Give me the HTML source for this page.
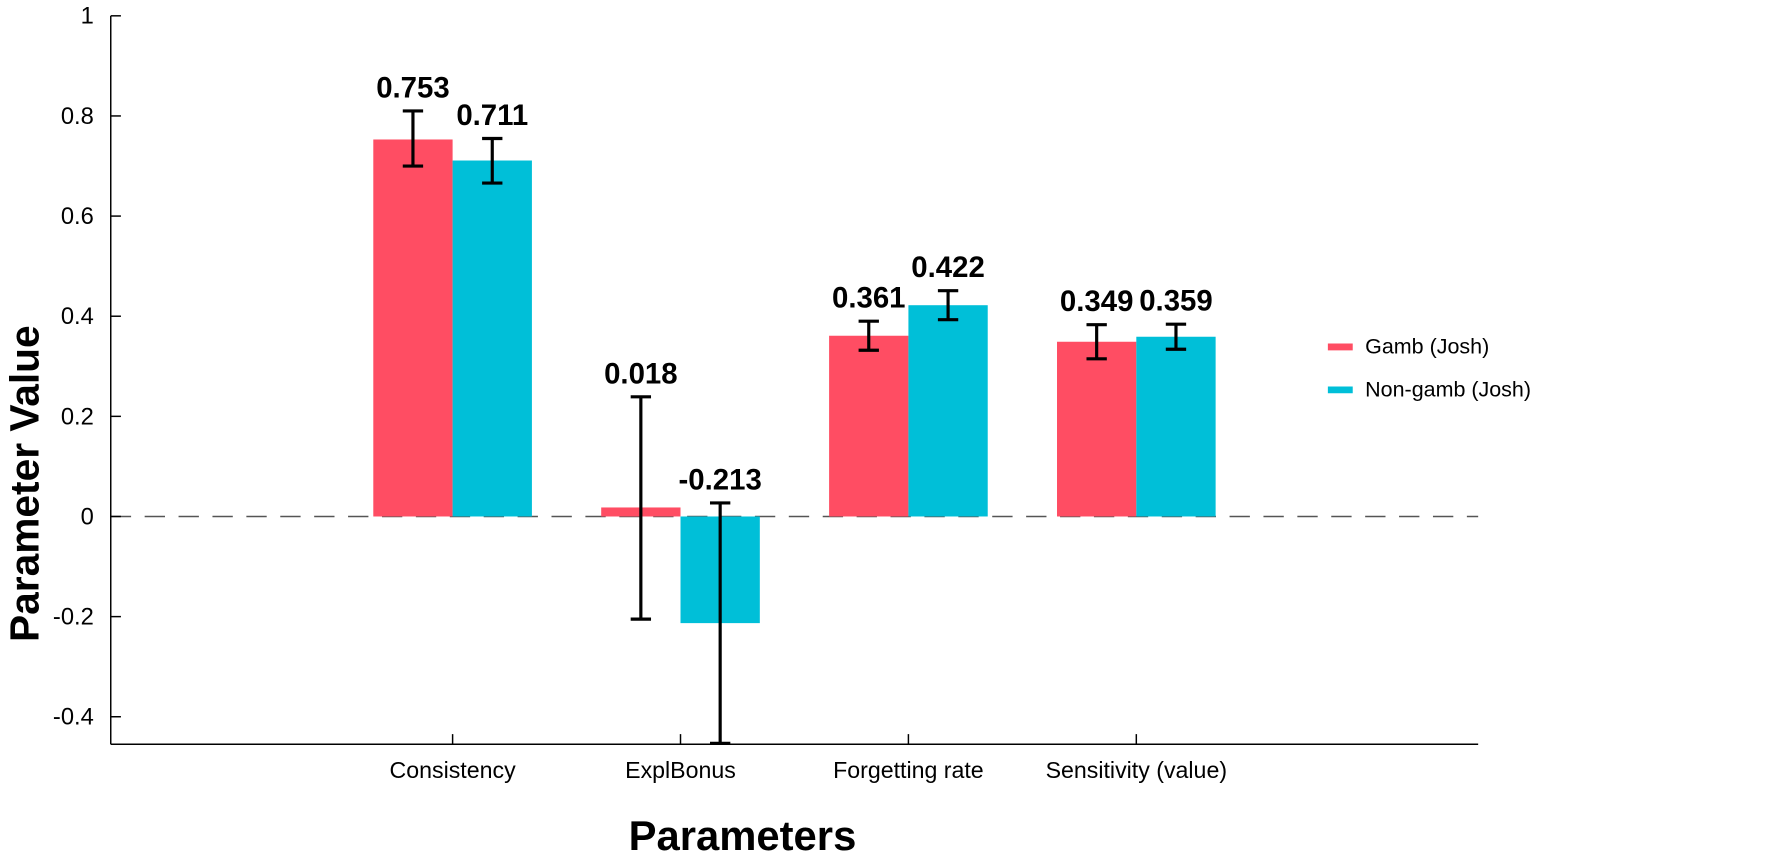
<!DOCTYPE html>
<html><head><meta charset="utf-8"><style>
html,body{margin:0;padding:0;background:#fff;}
svg{display:block;font-family:"Liberation Sans",Arial,sans-serif;}
</style></head><body>
<svg id="chart" width="1772" height="857" viewBox="0 0 1772 857" xmlns="http://www.w3.org/2000/svg">
<g transform="scale(1.1301)">
<g id="axes"></g>
<g id="bars"></g>
<text x="657" y="752" font-size="37" font-weight="bold" text-anchor="middle" fill="#000">Parameters</text>
<text transform="translate(34,428) rotate(-90)" font-size="36" font-weight="bold" text-anchor="middle" fill="#000">Parameter Value</text>
<g>
  <line x1="1175" y1="307" x2="1197" y2="307" stroke="#ff4d63" stroke-width="6"/>
  <text x="1208" y="313" font-size="19" fill="#000">Gamb (Josh)</text>
  <line x1="1175" y1="345" x2="1197" y2="345" stroke="#00bfd8" stroke-width="6"/>
  <text x="1208" y="351" font-size="19" fill="#000">Non-gamb (Josh)</text>
</g>
</g>
</svg>
<script>
const categories = ["Consistency", "ExplBonus", "Forgetting rate", "Sensitivity (value)"];
const gambValues = [0.753, 0.018, 0.361, 0.349];
const nonGambValues = [0.711, -0.213, 0.422, 0.359];
const gambErrLow = [0.700, -0.205, 0.332, 0.315];
const gambErrHigh = [0.810, 0.239, 0.390, 0.383];
const nonGambErrLow = [0.666, -0.453, 0.393, 0.334];
const nonGambErrHigh = [0.755, 0.027, 0.451, 0.384];
const yTicks = [-0.4, -0.2, 0, 0.2, 0.4, 0.6, 0.8, 1];
const yTickLabels = ["-0.4", "-0.2", "0", "0.2", "0.4", "0.6", "0.8", "1"];

const NS = "http://www.w3.org/2000/svg";
const X0 = 98, X1 = 1308, XMIN = -0.5, XMAX = 5.5;
const Y0 = 658.6, YMIN = -0.455, YMAX = 1, YTOP = 14;
function xs(v){ return X0 + (v - XMIN) / (XMAX - XMIN) * (X1 - X0); }
function ys(v){ return Y0 - (v - YMIN) / (YMAX - YMIN) * (Y0 - YTOP); }
function mk(tag, attrs, parent){
  const e = document.createElementNS(NS, tag);
  for (const k in attrs) e.setAttribute(k, attrs[k]);
  parent.appendChild(e); return e;
}
const axes = document.getElementById("axes");
const barsG = document.getElementById("bars");
const unit = (X1 - X0) / (XMAX - XMIN);
const bw = unit * 0.348;

let zl = mk("line", {x1:X0, y1:ys(0), x2:X1, y2:ys(0), stroke:"#555", "stroke-width":1.4, "stroke-dasharray":"18 12"}, axes);



let ya = mk("line", {x1:X0, y1:YTOP, x2:X0, y2:Y0, stroke:"#000", "stroke-width":1.3}, axes);


let xa = mk("line", {x1:X0, y1:Y0, x2:X1, y2:Y0, stroke:"#000", "stroke-width":1.3}, axes);



yTicks.forEach((t, i) => {
  const y = ys(t);
  const tk = mk("line", {x1:X0, y1:y, x2:X0 + 9, y2:y, stroke:"#000", "stroke-width":1.3}, axes);
  
  
  const lb = mk("text", {x:X0 - 15, y:y + 7, "font-size":21, "text-anchor":"end", fill:"#000"}, axes);
  lb.textContent = yTickLabels[i];
  
  
});

categories.forEach((c, i) => {
  const cx = xs(i + 1);
  const tk = mk("line", {x1:cx, y1:Y0, x2:cx, y2:Y0 - 9, stroke:"#000", "stroke-width":1.3}, axes);
  
  
  const lb = mk("text", {x:cx, y:Y0 + 30, "font-size":20.5, "text-anchor":"middle", fill:"#000"}, axes);
  lb.textContent = c;
  
  

  const series = [
    {v:gambValues[i], lo:gambErrLow[i], hi:gambErrHigh[i], col:"#ff4d63", x:cx - bw, name:"gamb"},
    {v:nonGambValues[i], lo:nonGambErrLow[i], hi:nonGambErrHigh[i], col:"#00bfd8", x:cx, name:"nongamb"}
  ];
  series.forEach(s => {
    const yv = ys(s.v), yz = ys(0);
    const r = mk("rect", {x:s.x, y:Math.min(yv, yz), width:bw, height:Math.abs(yz - yv), fill:s.col}, barsG);
    
    
  });
  series.forEach(s => {
    const ex = s.x + bw / 2;
    const g = mk("g", {}, barsG);
    
    
    mk("line", {x1:ex, y1:ys(s.lo), x2:ex, y2:ys(s.hi), stroke:"#000", "stroke-width":2.8}, g);
    mk("line", {x1:ex - 9, y1:ys(s.lo), x2:ex + 9, y2:ys(s.lo), stroke:"#000", "stroke-width":2.8}, g);
    mk("line", {x1:ex - 9, y1:ys(s.hi), x2:ex + 9, y2:ys(s.hi), stroke:"#000", "stroke-width":2.8}, g);
    const vl = mk("text", {x:ex, y:ys(s.hi) - 12, "font-size":26, "font-weight":"bold", "text-anchor":"middle", fill:"#000"}, barsG);
    vl.textContent = s.v.toFixed(3);
    
    
  });
});
</script>
</body></html>
